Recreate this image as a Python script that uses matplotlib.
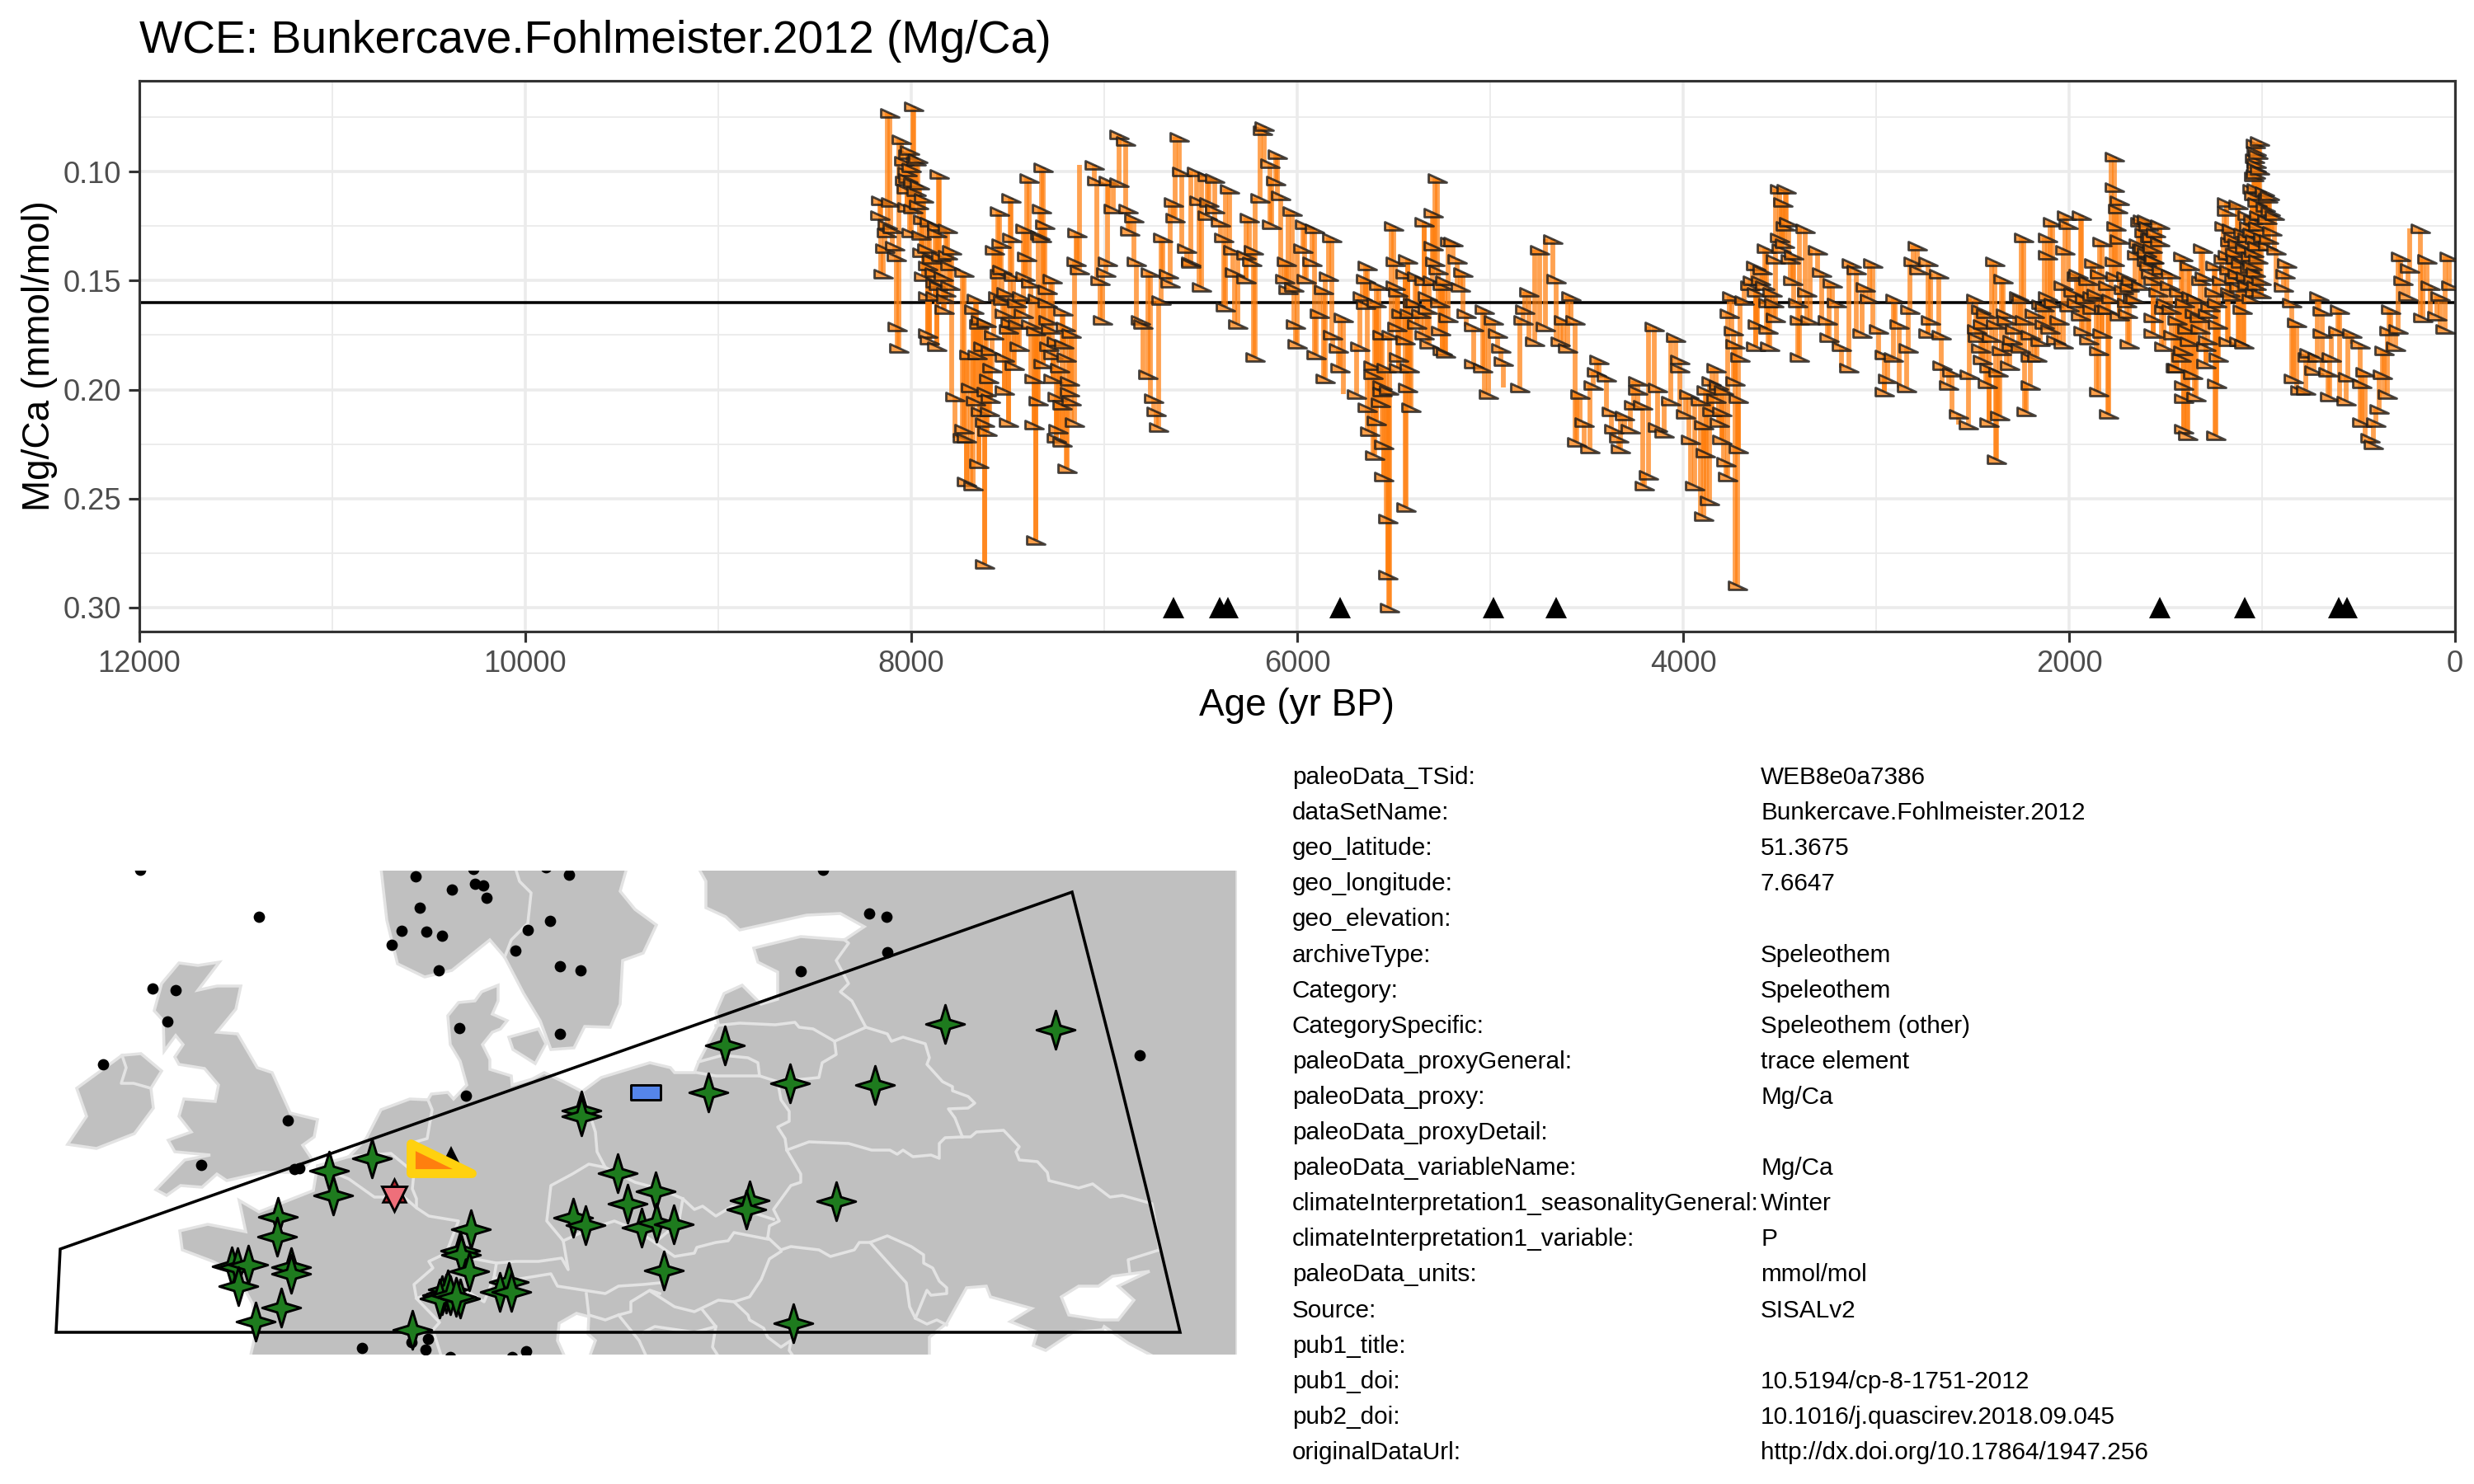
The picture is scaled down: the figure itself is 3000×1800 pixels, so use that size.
import numpy as np
import matplotlib
matplotlib.use("Agg")
import matplotlib.pyplot as plt
from matplotlib.path import Path
from matplotlib.patches import Polygon
from matplotlib.markers import MarkerStyle

plt.rcParams['font.family'] = ['Liberation Sans', 'DejaVu Sans']

# ---------- Mg/Ca record, values ----------
age_a = [8110,7986,8051,8015,7965,8040,8021,8015,8034,7958,7973,7935,7853,8158,8107,8164,8021,7992,8122,7906,7868,7811,8097,8129,
         8002,7950,8135,8087,8078,7944,7916,7868,8145,7935,7792,7811,7801,7725,7878,7820,7916,7878,7820,8072,8065,7916,7906,7868,7830,7773,
         7664,7677,7639,7610,7572,7702,7658,7591,7693,7610,7668,7591,7620,7605,7725,7715,7734,7649,7715,7681,7620,
         7544,7481,7567,7534,7477,7544,7553,7525,7515,7486,7448,7496,7439,7515,7467,7515,7496,
         7387,7315,7324,7309,7410,7334,7324,7401,7410,7382,7271,7296,7429,7296,7214,7277,7353,7200,7172,7286,7267,7210,7315,7362,7267,7343,7362,
         7242,7219,7181,7181,7153,7238,7248,7219,7191,7353,7143,7147,7128,
         7053,7038,6977,6924,6924,6889,6952,6876,6847,6866,6981,6990,7023,7009,
         6832,6761,6666,6657,6698,6813,6800,6775,6742,6729,6718,6704,
         6613,6641,6632,6599,6523,6466,6428,6351,6571,6552,6552,6508,6456,6428,6399,6466,6380,6494,6370,6332,6265,6227,6246,6323,6265,6237,6309,6218,
         6170,6180,6141,6103,6113,6084,6132,6193,6027,6055,6065,6046,5970,5960,5922,5912,5951,6017,6008,5998,
         5821,5836,5865,5884,5760,5817,5788,5779,5855,5903,
         5502,5636,5645,5578,5664,5645,5588,5493,5493,5674,5693,5607,5607,5559,5636,5559,5569,5588,5626,5550,5598,5550,5531,5531,5521,5483,5512,5474,5474]
val_a = [.073,.070,.085,.092,.094,.095,.100,.103,.104,.106,.109,.112,.101,.113,.114,.120,.116,.117,.124,.123,.125,.126,.126,.128,
         .128,.129,.135,.134,.139,.137,.143,.128,.147,.148,.136,.138,.143,.146,.151,.155,.157,.157,.158,.171,.181,.174,.177,.180,.163,.203,
         .158,.163,.168,.169,.175,.184,.184,.182,.199,.201,.205,.204,.215,.219,.218,.222,.222,.234,.242,.244,.280,
         .118,.112,.136,.133,.130,.147,.157,.159,.165,.169,.170,.172,.180,.185,.189,.200,.215,
         .103,.098,.117,.124,.126,.129,.130,.139,.148,.151,.149,.154,.157,.160,.164,.172,.173,.171,.174,.180,.184,.179,.188,.195,.195,.205,.216,
         .203,.207,.196,.201,.215,.218,.222,.224,.236,.269,.128,.141,.145,
         .097,.104,.104,.105,.083,.086,.117,.117,.121,.127,.141,.146,.150,.168,
         .141,.146,.147,.151,.130,.168,.170,.193,.204,.210,.217,.159,
         .084,.114,.121,.100,.100,.102,.103,.108,.135,.141,.142,.113,.114,.117,.123,.120,.130,.153,.162,.136,.138,.136,.121,.146,.149,.141,.170,.185,
         .079,.081,.096,.092,.104,.111,.124,.112,.118,.141,.149,.154,.135,.124,.141,.126,.149,.153,.170,.179,
         .130,.148,.154,.165,.167,.175,.181,.190,.195,.184,
         .125,.143,.149,.152,.157,.161,.160,.141,.152,.180,.202,.189,.193,.198,.208,.201,.206,.214,.219,.225,.230,.240,.259,.285,.300,.171,.175,.185,.190]

age_b = [5435,5410,5429,5420,5439,5420,5391,5429,5439,5382,5344,5315,5324,5324,5344,5296,5273,5296,5286,5248,5210,5191,5172,5143,5153,5220,5258,5248,5229,
         5124,5086,5029,5086,5038,5010,4981,4962,4943,4933,4847,4819,4800,4828,4771,4742,4714,4676,4660,4580,4638,4618,4561,4599,
         4533,4514,4552,4485,4466,4437,4447,4399,4370,4361,4304,4332,4323,4275,4237,4237,4256,4208,4199,4180,4151,4132,4132,4100,
         4037,4065,4017,4017,3989,3970,3912,3960,3941,3893,3865,3884,3893,3855,3817,3827,3798,3798,3779,3769,3731,3712,3712,3716,3703,3731,3741,3760,3750,
         3684,3655,3626,3617,3626,3569,3579,3550,3560,3521,3502,3483,3464,3454,3474,3502,3426,3407,3397,3397,3369,3359,3340,3302,3283,3254,3226,3245,3206,3178,3140,
         3130,3102,3073,3054,3016,3035,2987,2958,2911,2958,2939,2901,2882,2844,2835,2825,2787,2806,2777,2730,2720,2730,2676,2662]
val_b = [.254,.208,.199,.190,.177,.165,.160,.140,.147,.148,.175,.179,.163,.157,.123,.119,.103,.134,.141,.152,.132,.132,.140,.146,.153,.167,.173,.182,.183,
         .165,.171,.163,.188,.190,.202,.168,.174,.181,.187,.199,.163,.155,.168,.178,.136,.171,.131,.149,.157,.178,.168,.168,.181,
         .202,.215,.224,.227,.198,.186,.192,.194,.210,.218,.212,.222,.227,.218,.196,.200,.207,.207,.244,.239,.171,.199,.217,.220,
         .176,.205,.186,.190,.211,.202,.205,.223,.244,.258,.251,.229,.216,.196,.198,.204,.210,.223,.233,.240,.196,.204,.227,.290,.185,.179,.173,.165,.157,
         .159,.152,.143,.170,.180,.135,.152,.180,.172,.167,.108,.114,.108,.123,.133,.130,.138,.160,.185,.168,.126,.155,.168,.136,.146,.168,.151,.176,.160,.180,.190,
         .142,.145,.174,.153,.142,.158,.172,.184,.185,.201,.195,.158,.170,.199,.181,.163,.134,.141,.145,.141,.168,.174,.147,.175]

age_c = [2660,2625,2572,2607,2522,2519,2483,2457,2448,2474,2457,2413,2413,2386,2421,2374,2359,2342,2368,2324,2297,2306,2262,2236,2221,2200,2253,2200,2165,2147,2112,2085,2112,2129,2112,
         2032,2067,2014,2005,1935,2023,1961,1926,1899,1952,1873,1882,1828,1846,1846,1828,1793,1802,1766,1766,1740,1749,1758,1740,1766,1687,1705,1687,1696,1669,
         1634,1598,1528,1572,1625,1563,1598,1563,1563,1563,1510,1510,1475,1439,1412,1404,1404,1404,1386,1377,1368,1359,1342,1306,1315,1324,1280,1289,1244,1236,1227,1236,1239,
         1182,1195,1174,1200,1165,1124,1138,1120,1156,1094,1103,1076,1076,1059,1050,1041,1032,1023,1014,1014,1005,1005,996,988,961,935,970,926,
         873,882,890,846,820,837,802,775,757,766,713,731,704,687,687,642,651,660,598,607,563,536,554,492,483,483,439,421,465,377,395,412,350,367,342,333,306,297,280,271,244,235,179,165,147,129,94,76,50,29,20]
val_c = [.189,.198,.211,.192,.216,.193,.158,.163,.170,.176,.181,.190,.215,.141,.197,.232,.212,.149,.192,.168,.177,.189,.157,.130,.210,.198,.181,.185,.185,.161,.130,.123,.138,.170,.157,
         .179,.177,.120,.124,.120,.136,.160,.173,.177,.147,.142,.157,.132,.201,.182,.174,.211,.163,.093,.107,.113,.117,.125,.131,.141,.179,.148,.153,.165,.158,
         .123,.122,.124,.130,.135,.140,.141,.150,.167,.174,.180,.163,.147,.190,.139,.198,.204,.218,.221,.143,.157,.193,.203,.135,.150,.167,.177,.188,.143,.160,.185,.197,.221,
         .114,.125,.178,.140,.132,.115,.140,.178,.157,.179,.163,.120,.130,.139,.108,.102,.096,.092,.086,.099,.150,.156,.130,.109,.111,.120,.134,.136,
         .142,.147,.153,.160,.169,.195,.200,.200,.183,.185,.185,.191,.157,.164,.174,.185,.203,.192,.163,.173,.205,.174,.194,.179,.215,.197,.222,.225,.192,.193,.209,.215,.202,.182,.173,.163,.180,.172,.139,.150,.157,.144,.126,.167,.140,.152,.166,.157,.172,.139,.152]

# extra points read from the dense clusters
age_d = [1034,1030,1040,1028,1036,1032,1042,1026,1046,1022,1050,1038,1024,1044,1020,1052,1034,1048,1030,1040,1056,1018,
         970,958,975,950,965,985,
         1184,1170,1160,1145,1130,1120,1180,1150,1128,1165,1140,1110,1100,1090,1085,1078,1070,1065,
         1250,1280,1300,1320,1340,1290,1270,1230,1210,1350,1375,1400,1420,1440,1460,1480,1500,1520,1540,1390,1410,1430,1450,1470,
         1590,1580,1570,1610,1620,1640,1650,1560,1550,1530,1600,1585,1615,1575,1630,1660,1680,1700,1720,1740,1760,1780,1800,1820,1840,1860,
         1880,1900,1920,1940,1960,1980,2000,2030,2050,2080,2100,2130,2150,2180,2200,2230,2250,2280,2300,2330,2350,2380,2400,2430,2450,2480,
         8010,8000,7990,8025,7975,7960,7940,7920,7895,7880,7860,7845,7835,7800,
         7650,7630,7600,7580,7640,7595,
         7530,7510,7470,7455,7420,7380,7345,7290,7250,7230,7195,7170,
         5560,5540,5525,5480,5460,5400,5380,5360,5340,5300,5270,5260,5235,
         3520,3490,3470,3445,3430,3600,3590,3540,3560,3620,3640,3530,
         3880,3850,3830,3810,3790]
val_d = [.087,.0905,.094,.098,.101,.1076,.111,.114,.122,.125,.128,.131,.134,.137,.140,.143,.146,.149,.152,.155,.158,.120,
         .112,.118,.122,.127,.131,.116,
         .118,.145,.126,.149,.133,.153,.138,.130,.147,.155,.137,.142,.128,.135,.148,.152,.125,.144,
         .155,.165,.148,.172,.158,.180,.162,.170,.150,.165,.178,.160,.185,.168,.175,.152,.160,.145,.155,.172,.182,.155,.190,.163,
         .125,.130,.135,.128,.122,.133,.138,.140,.128,.132,.137,.143,.135,.147,.152,.158,.150,.160,.154,.166,.148,.158,.152,.163,.147,.156,
         .163,.150,.158,.166,.148,.155,.162,.152,.168,.160,.172,.162,.178,.165,.175,.168,.158,.172,.180,.165,.182,.170,.176,.165,.186,.172,
         .090,.098,.105,.108,.095,.115,.122,.135,.140,.146,.152,.139,.148,.152,
         .170,.180,.195,.190,.210,.210,
         .145,.155,.148,.160,.165,.170,.158,.168,.178,.190,.185,.205,
         .175,.190,.200,.155,.165,.160,.170,.165,.150,.150,.145,.160,.150,
         .140,.135,.125,.140,.150,.150,.145,.155,.160,.155,.150,.160,
         .200,.210,.190,.215,.200]

# ages of the dating points (black triangles) and mean line
date_ages = [6641,6403,6361,5779,4981,4660,1528,1089,604,558]
date_level = 0.30
mean_level = 0.16

x_major = list(range(0, 12001, 2000))
x_minor = list(range(1000, 12000, 2000))
y_major = [0.10, 0.15, 0.20, 0.25, 0.30]
y_minor = [0.075, 0.125, 0.175, 0.225, 0.275]

# ---------- metadata table ----------
meta_keys = ["paleoData_TSid:", "dataSetName:", "geo_latitude:", "geo_longitude:", "geo_elevation:", "archiveType:",
             "Category:", "CategorySpecific:", "paleoData_proxyGeneral:", "paleoData_proxy:", "paleoData_proxyDetail:",
             "paleoData_variableName:", "climateInterpretation1_seasonalityGeneral:", "climateInterpretation1_variable:",
             "paleoData_units:", "Source:", "pub1_title:", "pub1_doi:", "pub2_doi:", "originalDataUrl:"]
meta_vals = ["WEB8e0a7386", "Bunkercave.Fohlmeister.2012", "51.3675", "7.6647", "", "Speleothem",
             "Speleothem", "Speleothem (other)", "trace element", "Mg/Ca", "",
             "Mg/Ca", "Winter", "P", "mmol/mol", "SISALv2", "", "10.5194/cp-8-1751-2012",
             "10.1016/j.quascirev.2018.09.045", "http://dx.doi.org/10.17864/1947.256"]

# ---------- map, in map units (no axes in the original) ----------
ireland = [(82,255),(117,250),(163,268),(186,299),(183,323),(196,344),(171,365),(148,363),(93,323),(105,289)]
britain = [(217,475),(240,472),(266,476),(240,442),(263,447),(292,447),(286,419),(263,391),(288,389),(312,348),(330,342),
           (352,293),(385,285),(381,264),(367,254),(379,236),(362,221),(319,221),(275,211),(263,219),(245,203),(219,205),
           (202,193),(189,200),(224,236),(255,242),(212,246),(204,260),(232,270),(217,289),(223,310),(261,307),(265,327),
           (248,347),(217,352),(212,361),(222,376),(213,387),(199,368),(198,405),(187,417),(196,450)]
scandinavia = [(462,590),(760,590),(752,562),(770,540),(796,521),(780,487),(755,478),(752,425),(740,397),(709,398),(696,372),
               (668,370),(655,405),(635,438),(612,482),(594,503),(548,466),(515,458),(482,474),(469,527)]
zealand = [(617,385),(653,395),(662,377),(649,353),(622,370)]
mainland = [(218,150),(252,158),(298,149),(290,187),(314,173),(380,199),(385,229),(423,240),(444,262),(462,297),(497,310),
            (519,309),(523,316),(543,318),(550,310),(566,327),(558,356),(546,376),(543,411),(556,427),(576,429),(584,440),
            (604,448),(604,429),(597,413),(615,405),(607,395),(597,391),(585,376),(594,358),(594,346),(620,338),(621,327),
            (645,334),(660,342),(683,331),(706,319),(729,336),(788,354),(813,348),(818,342),(842,342),(847,355),(871,401),
            (868,415),(878,438),(900,448),(923,425),(943,431),(943,450),(943,464),(919,476),(914,493),(971,507),(1024,503),
            (1048,519),(1019,535),(978,533),(897,515),(880,531),(856,542),(856,574),(847,590),(1500,590),(1500,-5),(303,-5),
            (311,30),(306,62),(286,99),(258,113),(221,127)]
black_sea = [(1127,-5),(1127,21),(1148,38),(1172,81),(1196,83),(1201,70),(1251,56),(1225,40),(1258,27),(1253,11),(1268,5),
             (1301,27),(1337,30),(1339,34),(1368,14),(1404,-5)]
azov = [(1287,70),(1308,83),(1332,83),(1349,95),(1394,101),(1356,83),(1375,66),(1356,42),(1334,42),(1296,48)]
adriatic = [(678,38),(699,50),(714,46),(713,25),(722,17),(714,-5),(686,-5),(676,17)]

borders = [
    [(148,363),(153,348),(147,329),(162,329),(183,323)],
    [(625,590),(630,574),(644,560),(640,523),(620,503),(612,482)],
    [(519,309),(524,297),(518,262),(497,256),(502,221),(500,201),(505,189),(505,178),(520,168),(556,162),(546,136),(541,123),
     (581,115),(602,111),(625,113),(653,113),(681,117),(689,103),(683,138),(663,162),(668,205),(694,219),(714,231),(734,227),
     (724,246),(722,270),(706,319)],
    [(423,240),(474,244),(497,225)],
    [(385,229),(423,213),(454,191),(490,191),(505,178)],
    [(541,123),(520,113),(525,105),(502,85),(505,68),(530,78),(571,74),(587,64),(599,93),(602,111)],
    [(599,93),(625,91),(668,98),(676,83),(734,74),(750,83),(780,85),(800,87)],
    [(505,68),(533,39),(525,30),(536,-5)],
    [(711,74),(714,48),(734,42),(750,48),(765,52),(765,64),(788,78),(800,74)],
    [(734,227),(770,209),(800,201),(828,189),(842,176),(852,180),(868,168),(888,180),(938,164)],
    [(683,138),(714,152),(745,162),(770,152),(794,136),(818,119),(842,123),(845,130),(868,136),(883,138),(890,148),(931,140)],
    [(794,136),(823,160),(828,189)],
    [(868,399),(897,402),(940,400),(964,403),(969,397),(986,395),(1012,380),(1050,397),(1033,429),(1019,440),(1029,450),(1014,478),(1029,499),(1024,503)],
    [(845,342),(868,338),(921,338),(919,354),(907,360),(876,363),(847,355)],
    [(921,338),(943,331),(947,309),(957,295),(957,283),(943,276),(952,262),(954,248),(971,219),(971,209),(959,205),(938,176),(945,162),(933,156),(931,142)],
    [(943,331),(993,336),(997,354),(1014,364),(1012,380)],
    [(1050,397),(1076,389),(1081,380),(1095,385),(1122,377),(1127,360),(1124,352),(1143,331),(1155,325),(1155,320),(1174,313),(1182,305),(1174,299),(1150,298),(1158,287),(1167,264)],
    [(954,248),(981,258),(1029,256),(1057,248),(1079,248),(1088,243),(1095,248),(1107,240),(1129,242),(1139,238),(1139,256),(1146,263),(1167,264)],
    [(1167,264),(1177,264),(1184,270),(1217,272),(1236,252),(1232,246),(1236,236),(1258,234),(1270,221),(1272,211),(1308,202),(1325,207),(1346,191),(1361,193),(1397,183),(1401,160),(1406,127),(1368,115),(1370,99)],
    [(931,142),(947,127),(959,131),(993,127),(1007,119),(1036,127),(1042,136),(1055,136),(1076,144),(1105,131),(1120,121),(1120,111),(1131,105),(1139,89),(1148,81),(1148,74),(1129,72),(1124,78),(1119,66),(1110,44)],
    [(1055,136),(1081,107),(1099,87),(1103,58),(1110,44),(1124,37),(1136,42),(1148,36)],
    [(947,125),(933,116),(923,91),(909,70),(890,64),(871,66),(842,52),(818,58),(790,76)],
    [(890,64),(907,48),(909,42),(926,32),(931,21),(947,9),(959,17),(957,5),(964,-5)],
    [(852,54),(868,34),(864,9),(873,-5)],
    [(780,27),(794,34),(842,27),(868,34)],
    [(750,48),(775,17),(785,-5)],
]

# region box drawn over the map
region_box = [(73,128),(68,27),(1431,27),(1393,189),(1353,352),(1300,561)]

# other records in the map
dot_x = [170,314,185,213,203,125,349,244,357,363,504,574,548,576,586,590,509,487,517,536,475,532,690,662,667,640,625,679,704,679,557,565,439,499,519,516,638,546,621,998,1054,1075,1076,971,1382]
dot_y = [588,531,444,442,404,352,284,230,225,226,580,589,564,571,569,554,542,514,513,508,497,466,582,591,526,515,490,471,466,389,396,314,8,15,19,6,4,-3,-3,588,535,531,488,465,363]
star_x = [399,451,404,337,336,281,288,301,289,353,353,341,310,500,571,558,559,569,541,536,543,533,546,558,553,617,606,620,705,705,749,795,761,695,710,778,796,805,879,1146,1280,859,958,1061,909,905,1014,817,962]
star_y = [223,238,193,167,143,107,106,109,83,106,98,57,40,30,152,126,121,101,74,72,79,68,72,68,70,88,76,76,296,289,220,198,183,166,157,154,160,102,375,401,394,318,329,327,187,176,186,158,38]
site_xy = (535, 238)
red_up_xy = (478, 199)
red_down_xy = (478, 189)
hidden_xy = (547, 239)
blue_xy = (783, 318)

# ---------- styles ----------
ORANGE = '#FF7F0E'
flag = Path([(-1, .5), (-1, -.5), (1, -.5), (-1, .5)], closed=True)
r = 0.23
star4 = Path([(0, 1), (r, r), (1, 0), (r, -r), (0, -1), (-r, -r), (-1, 0), (-r, r), (0, 1)], closed=True)
rect = Path([(-1, .5), (1, .5), (1, -.5), (-1, -.5), (-1, .5)], closed=True)

fig = plt.figure(figsize=(10, 6), dpi=300)
W, H = 3000.0, 1800.0

# ---------- top panel ----------
ax = fig.add_axes([169/W, 1-766/H, 2808/W, 668/H])
age = np.array(age_a + age_b + age_c + age_d, dtype=float)
val = np.array(val_a + val_b + val_c + val_d)
order = np.argsort(-age, kind='stable')
age, val = age[order], val[order]

ax.vlines(age[:-1], val[:-1], val[1:], color=ORANGE, alpha=0.72, lw=1.4, zorder=3)
ax.plot(age, val, ls='', marker=flag, ms=5.1, mew=0.68, mfc=(1, .5, .05, .75), mec=(0.1, 0.1, 0.1, .8), zorder=4)
ax.axhline(mean_level, color='black', lw=0.85, zorder=2.5)
ax.plot(date_ages, [date_level]*len(date_ages), ls='', marker='^', ms=6.4, color='black', mew=0, zorder=6)

ax.set_xlim(12000, 0)
ax.set_ylim(0.311, 0.0583)
ax.set_xticks(x_major)
ax.set_xticks(x_minor, minor=True)
ax.set_yticks(y_major)
ax.set_yticks(y_minor, minor=True)
ax.set_yticklabels(['%.2f' % v for v in y_major])
ax.grid(which='major', color='#EBEBEB', lw=0.85)
ax.grid(which='minor', color='#EBEBEB', lw=0.45)
ax.set_axisbelow(True)
ax.tick_params(which='major', length=3.1, width=0.75, color='#333333', labelcolor='#4D4D4D', labelsize=8.7, pad=2.2)
ax.tick_params(which='minor', length=0)
for s in ax.spines.values():
    s.set_color('#333333')
    s.set_linewidth(0.75)
ax.set_xlabel("Age (yr BP)", fontsize=11, labelpad=2.6)
ax.set_ylabel("Mg/Ca (mmol/mol)", fontsize=11, labelpad=1.6)
ax.set_title("WCE: Bunkercave.Fohlmeister.2012 (Mg/Ca)", loc='left', fontsize=13.25, pad=8.2)

# ---------- map ----------
m = fig.add_axes([0, 1-1643/H, 1500/W, 587/H])
m.set_xlim(0, 1500)
m.set_ylim(0, 587)
m.axis('off')
for poly in [ireland, britain, scandinavia, zealand, mainland]:
    m.add_patch(Polygon(poly, closed=True, fc='#C0C0C0', ec='#E3E3E3', lw=0.85, zorder=1))
for poly in [black_sea, azov, adriatic]:
    m.add_patch(Polygon(poly, closed=True, fc='white', ec='#E3E3E3', lw=0.85, zorder=1.5))
for line in borders:
    xs, ys = zip(*line)
    m.plot(xs, ys, color='#E3E3E3', lw=0.85, zorder=2)
m.plot(dot_x, dot_y, ls='', marker='o', ms=3.3, color='black', mew=0, zorder=3)
m.add_patch(Polygon(region_box, closed=True, fc='none', ec='black', lw=0.85, zorder=4))
m.plot(star_x, star_y, ls='', marker=star4, ms=11.2, mfc='#1E7B1E', mec='black', mew=0.7, zorder=5)
m.plot(*red_up_xy, marker='^', ms=6.8, mfc='#B2222A', mec='black', mew=0.6, zorder=6)
m.plot(*red_down_xy, marker='v', ms=7.0, mfc='#EE6F7A', mec='black', mew=0.7, zorder=6.1)
m.plot(*hidden_xy, marker='^', ms=6.5, color='black', mew=0, zorder=6)
m.plot(*blue_xy, marker=rect, ms=8.6, mfc='#5585EA', mec='black', mew=0.7, zorder=6)
m.plot(*site_xy, marker=MarkerStyle(flag, joinstyle='round'), ms=17.6, mfc=ORANGE, mec='#FFD10F', mew=2.6, zorder=7)

# ---------- metadata text ----------
row_y = np.linspace(1-943/H, 1-1762/H, len(meta_keys))
for yy, k, v in zip(row_y, meta_keys, meta_vals):
    fig.text(1567/W, yy, k, fontsize=7.14, va='center', ha='left', color='black')
    fig.text(2135/W, yy, v, fontsize=7.14, va='center', ha='left', color='black')

fig.savefig("out.png", dpi=300, facecolor='white')
